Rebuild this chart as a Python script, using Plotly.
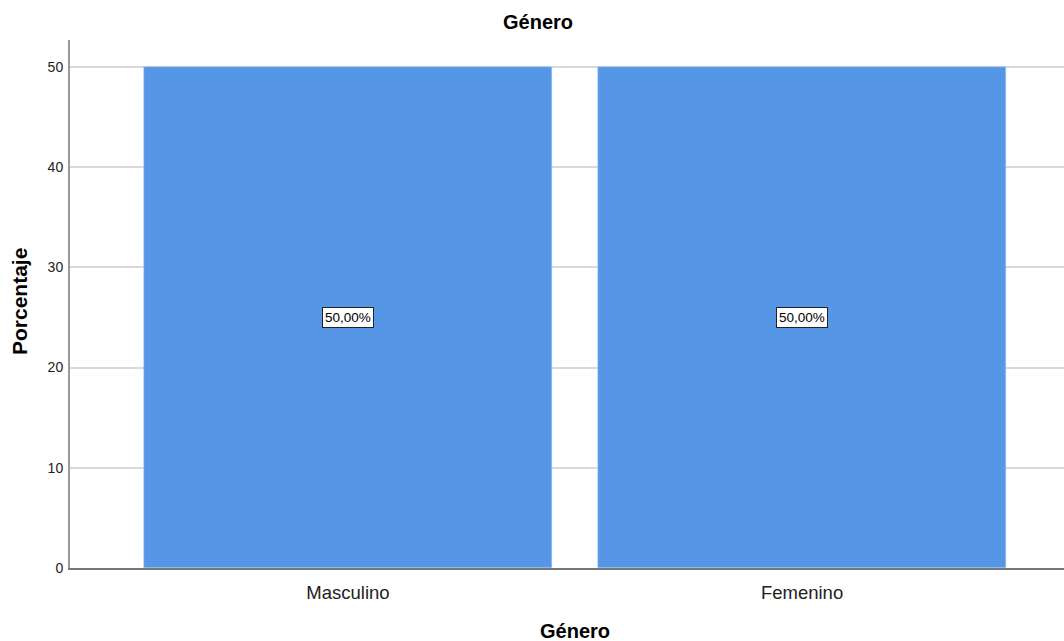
import plotly.graph_objects as go

categories = ["Masculino", "Femenino"]
values = [50.0, 50.0]
labels = ["50,00%", "50,00%"]
y_ticks = [0, 10, 20, 30, 40, 50]

W, H = 1064, 641
L, R, T, B = 70, 0, 40, 73
pw, ph = W - L - R, H - T - B
FONT = "Liberation Sans, Arial, sans-serif"

fig = go.Figure()
fig.add_trace(go.Bar(
    x=[0, 1], y=values, width=0.9,
    marker=dict(color="#5596e6", line=dict(color="#a9c8f0", width=0.5)),
    hoverinfo="skip",
))

for i, (v, t) in enumerate(zip(values, labels)):
    fig.add_annotation(
        x=i, y=v / 2, xref="x", yref="y", text=t, showarrow=False,
        font=dict(family=FONT, size=13.5, color="#000"),
        bgcolor="white", bordercolor="#222", borderwidth=1, borderpad=2,
    )

# chart title
fig.add_annotation(x=(538 - L) / pw, y=1, xref="paper", yref="paper",
                   text="<b>Género</b>", showarrow=False, xanchor="center",
                   yanchor="middle", yshift=18,
                   font=dict(family=FONT, size=20, color="#000"))

# x-axis title
fig.add_annotation(x=(575 - L) / pw, y=0, xref="paper", yref="paper",
                   text="<b>Género</b>", showarrow=False, xanchor="center",
                   yanchor="middle", yshift=-63,
                   font=dict(family=FONT, size=20, color="#000"))

# y-axis title
fig.add_annotation(x=(19 - L) / pw, y=(568 - 302) / ph, xref="paper", yref="paper",
                   text="<b>Porcentaje</b>", showarrow=False, xanchor="center",
                   yanchor="middle", textangle=-90,
                   font=dict(family=FONT, size=21, color="#000"))

fig.update_layout(
    width=W, height=H,
    margin=dict(l=L, r=R, t=T, b=B, autoexpand=False),
    paper_bgcolor="white", plot_bgcolor="white",
    showlegend=False,
    bargap=0,
    xaxis=dict(
        range=[-0.6123, 1.577], tickvals=[0, 1], ticktext=categories,
        showgrid=False, zeroline=False, showline=True, linecolor="#777", linewidth=1.5,
        ticks="", tickfont=dict(family=FONT, size=18.5, color="#222"),
        ticklabelstandoff=7,
        fixedrange=True,
    ),
    yaxis=dict(
        range=[0, 52.69], tickvals=y_ticks, ticks="",
        showgrid=True, gridcolor="#d9d9d9", gridwidth=1.5,
        zeroline=False, showline=True, linecolor="#999", linewidth=2,
        tickfont=dict(family=FONT, size=14, color="#222"),
        ticklabelstandoff=2,
    ),
)

fig.write_html(
    "out.html",
    config={"displayModeBar": False},
    post_script="document.body.style.margin='0px';document.body.style.overflow='hidden';",
)
